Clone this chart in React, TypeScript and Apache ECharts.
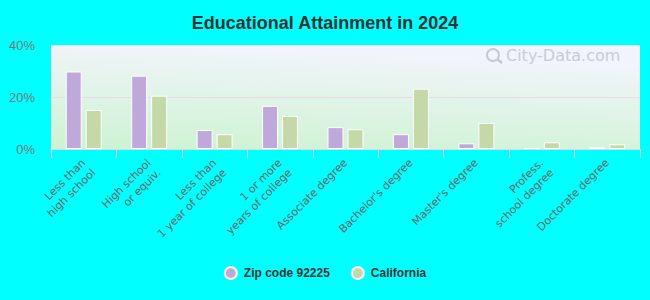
import React, { useEffect, useRef } from "react";
import * as echarts from "echarts";

const categories = [
  "Less than\nhigh school",
  "High school\nor equiv.",
  "Less than\n1 year of college",
  "1 or more\nyears of college",
  "Associate degree",
  "Bachelor's degree",
  "Master's degree",
  "Profess.\nschool degree",
  "Doctorate degree",
];
const zipValues = [29.8, 28.2, 7.3, 16.6, 8.4, 5.7, 2.2, 0.4, 0.7];
const caValues = [15.0, 20.5, 5.7, 12.7, 7.6, 23.2, 10.0, 2.6, 1.8];
const yTicks = [0, 20, 40];

const FONT = "'Liberation Sans', Arial, Helvetica, sans-serif";
const LABEL_FONT = "'DejaVu Sans', Verdana, sans-serif";

export default function App() {
  const ref = useRef<HTMLDivElement>(null);
  useEffect(() => {
    if (!ref.current) return;
    const chart = echarts.init(ref.current, null, { renderer: "svg" });
    chart.setOption({
      animation: false,
      backgroundColor: "#00ffff",
      textStyle: { fontFamily: FONT },
      title: {
        text: "Educational Attainment in 2024",
        left: "center",
        top: 9,
        textStyle: { fontSize: 18, fontWeight: "bold", color: "#333", fontFamily: FONT },
      },
      legend: {
        top: 261,
        left: "center",
        itemGap: 21,
        itemWidth: 16,
        itemHeight: 12,
        icon: "circle",
        textStyle: { fontSize: 12, fontWeight: "bold", color: "#333", fontFamily: FONT },
        data: ["Zip code 92225", "California"],
      },
      grid: {
        left: 51,
        right: 10,
        top: 45,
        bottom: 151,
        show: true,
        borderWidth: 0,
        backgroundColor: new echarts.graphic.LinearGradient(0, 1, 0.25, 0, [
          { offset: 0, color: "#ccf3d1" },
          { offset: 1, color: "#f2f4fb" },
        ]),
      },
      graphic: [
        {
          type: "text",
          left: 506,
          top: 47,
          style: {
            text: "City-Data.com",
            fontSize: 16,
            fontFamily: LABEL_FONT,
            fill: "#c6cdd2",
          },
        },
        {
          type: "circle",
          shape: { cx: 493, cy: 55, r: 6 },
          style: { fill: "none", stroke: "#c3cbd0", lineWidth: 2 },
        },
        {
          type: "line",
          shape: { x1: 497, y1: 59, x2: 502, y2: 63 },
          style: { stroke: "#c3cbd0", lineWidth: 2.5 },
        },
      ],
      xAxis: {
        type: "category",
        data: categories,
        axisLine: { lineStyle: { color: "#dcd6ea", width: 1 } },
        axisTick: { show: true, length: 9, lineStyle: { color: "#dcd0e6" } },
        axisLabel: {
          rotate: 45,
          interval: 0,
          fontSize: 11,
          color: "#666",
          fontFamily: LABEL_FONT,
          lineHeight: 14,
          margin: 12,
          formatter: (v: string) => (v.indexOf("\n") >= 0 ? "\n" + v : v),
        },
      },
      yAxis: {
        type: "value",
        min: 0,
        max: 40,
        interval: 20,
        axisLabel: {
          formatter: (v: number) => (yTicks.includes(v) ? v + "%" : ""),
          fontSize: 13,
          color: "#777",
          fontFamily: FONT,
          margin: 16,
        },
        axisLine: { show: false },
        axisTick: { show: false },
        splitLine: {
          lineStyle: { color: "#e8dde4", width: 1 },
        },
      },
      series: [
        {
          name: "Zip code 92225",
          type: "bar",
          data: zipValues,
          barWidth: 16,
          barGap: "25%",
          itemStyle: { color: "#bfa9da", borderColor: "#ffffff", borderWidth: 1 },
        },
        {
          name: "California",
          type: "bar",
          data: caValues,
          barWidth: 16,
          itemStyle: { color: "#c5d9a8", borderColor: "#ffffff", borderWidth: 1 },
        },
      ],
    });
    return () => chart.dispose();
  }, []);
  return (
    <div
      ref={ref}
      style={{ position: "fixed", left: 0, top: 0, width: 650, height: 300 }}
    />
  );
}
